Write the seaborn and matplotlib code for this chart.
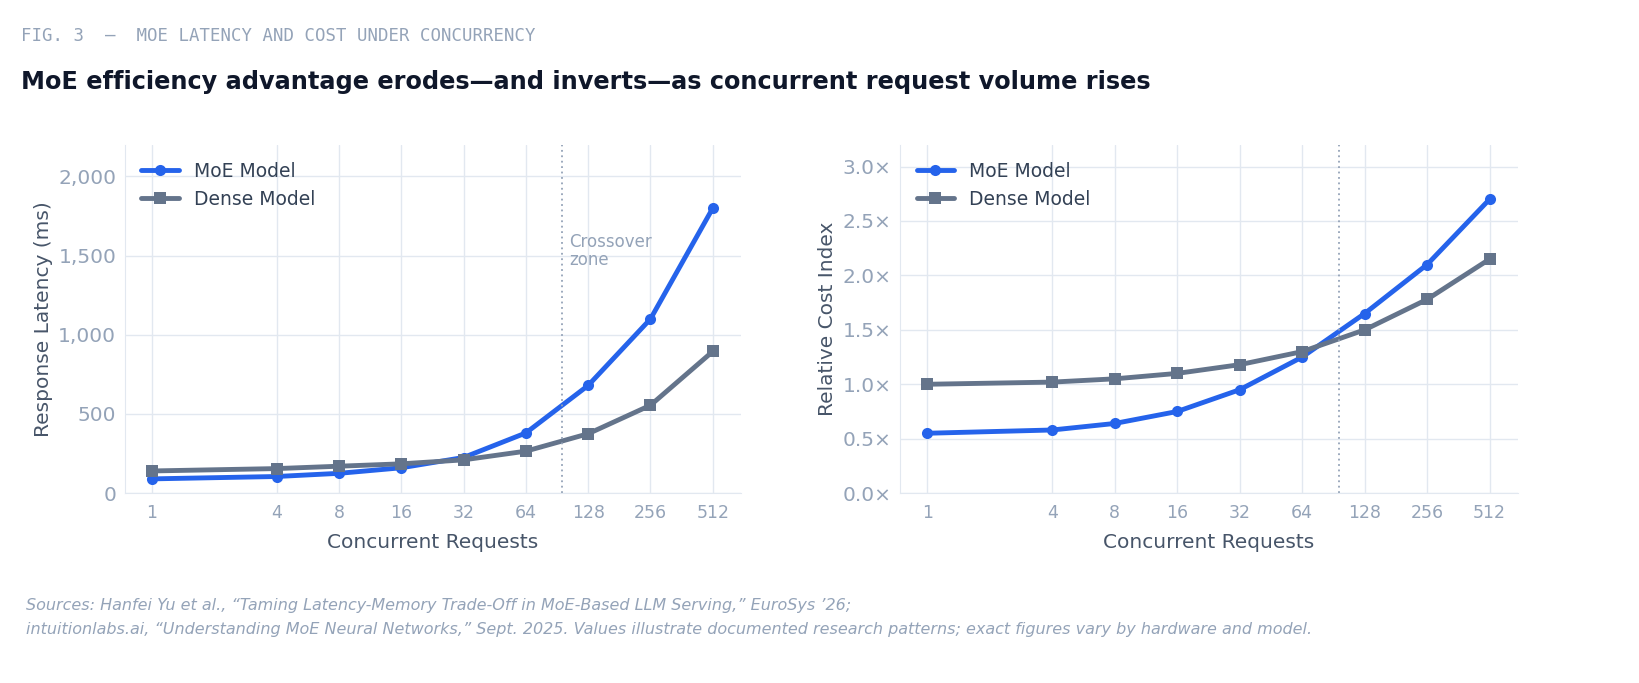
import matplotlib.pyplot as plt
import seaborn as sns
import pandas as pd

requests = [1, 4, 8, 16, 32, 64, 128, 256, 512]
moe_latency = [90, 105, 125, 160, 225, 380, 680, 1100, 1800]
dense_latency = [140, 155, 170, 185, 210, 265, 375, 555, 895]
moe_cost = [0.55, 0.58, 0.64, 0.75, 0.95, 1.25, 1.65, 2.1, 2.7]
dense_cost = [1.0, 1.02, 1.05, 1.1, 1.18, 1.3, 1.5, 1.78, 2.15]
crossover = 96

sns.set_style("white")
plt.rcParams['font.family'] = ['DejaVu Sans']

BLUE = "#2563eb"
GRAY = "#64748b"
TICK = "#94a3b8"
LABEL = "#475569"

fig = plt.figure(figsize=(16.39, 6.83), dpi=100)
ax1 = fig.add_axes([0.076, 0.278, 0.376, 0.51])
ax2 = fig.add_axes([0.549, 0.278, 0.377, 0.51])


def draw(ax, moe, dense, ylabel, ylim, yticks, fmt):
    df = pd.DataFrame({
        "x": requests * 2,
        "y": moe + dense,
        "model": ["MoE Model"] * len(requests) + ["Dense Model"] * len(requests),
    })
    sns.lineplot(data=df, x="x", y="y", hue="model", style="model",
                 markers={"MoE Model": "o", "Dense Model": "s"}, dashes=False,
                 palette={"MoE Model": BLUE, "Dense Model": GRAY},
                 linewidth=3.5, markersize=8, markeredgewidth=0, ax=ax)
    ax.set_xscale("log", base=2)
    ax.set_xlim(2 ** -0.44, 2 ** 9.45)
    ax.set_xticks(requests)
    ax.set_xticklabels([str(r) for r in requests])
    ax.minorticks_off()
    ax.set_ylim(*ylim)
    ax.set_yticks(yticks)
    ax.set_yticklabels([fmt(v) for v in yticks])
    ax.grid(True, color="#e2e8f0", linewidth=1)
    ax.axvline(crossover, color="#94a3b8", linestyle=(0, (1, 2)), linewidth=1.3)
    for s in ["top", "right"]:
        ax.spines[s].set_visible(False)
    for s in ["left", "bottom"]:
        ax.spines[s].set_color("#e2e8f0")
    ax.tick_params(axis="x", colors=TICK, labelsize=12.5, length=0, pad=8)
    ax.tick_params(axis="y", colors=TICK, labelsize=14.5, length=0, pad=6)
    ax.set_xlabel("Concurrent Requests", fontsize=14.5, color=LABEL, labelpad=8)
    ax.set_ylabel(ylabel, fontsize=14.5, color=LABEL)
    leg = ax.legend(loc="upper left", frameon=False, fontsize=13.5, handlelength=2)
    for t in leg.get_texts():
        t.set_color("#334155")


draw(ax1, moe_latency, dense_latency, "Response Latency (ms)", (0, 2200),
     [0, 500, 1000, 1500, 2000], lambda v: f"{v:,}")
draw(ax2, moe_cost, dense_cost, "Relative Cost Index", (0, 3.2),
     [0.0, 0.5, 1.0, 1.5, 2.0, 2.5, 3.0], lambda v: f"{v:.1f}×")

ax1.text(crossover * 1.08, 1640, "Crossover\nzone", fontsize=12, color=TICK,
         va="top", linespacing=1.0)

fig.text(0.013, 0.94, "FIG. 3  —  MOE LATENCY AND COST UNDER CONCURRENCY",
         family="DejaVu Sans Mono", fontsize=12.5, color=TICK)
fig.text(0.013, 0.87, "MoE efficiency advantage erodes—and inverts—as concurrent request volume rises",
         fontsize=17.3, fontweight="bold", color="#0f172a")
fig.text(0.016, 0.107, "Sources: Hanfei Yu et al., \u201cTaming Latency-Memory Trade-Off in MoE-Based LLM Serving,\u201d EuroSys \u201926;",
         fontsize=11.5, style="italic", color=TICK)
fig.text(0.016, 0.072, "intuitionlabs.ai, \u201cUnderstanding MoE Neural Networks,\u201d Sept. 2025. Values illustrate documented research patterns; exact figures vary by hardware and model.",
         fontsize=11.5, style="italic", color=TICK)

fig.savefig("out.png", dpi=100, facecolor="white")
